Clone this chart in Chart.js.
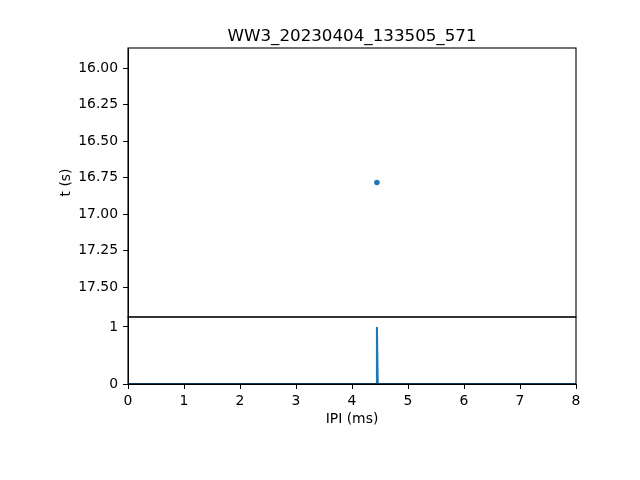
<!DOCTYPE html>
<html lang="en">
<head>
    <meta charset="UTF-8">
    <title>WW3_20230404_133505_571</title>
    <script src="https://cdn.jsdelivr.net/npm/chart.js"></script>
    <style>
        body { margin: 0; background: #fff; }
        #wrap { position: relative; width: 640px; height: 480px; }
        canvas { position: absolute; left: 0; top: 0; }
    </style>
</head>
<body>
    <div id="wrap">
        <canvas id="topChart" width="640" height="480"></canvas>
        <canvas id="bottomChart" width="640" height="480"></canvas>
    </div>
    <script>
        // data
        const titleText = 'WW3_20230404_133505_571';
        const scatterIPI = [4.445];      // ms
        const scatterT = [16.784];       // s
        const histX = [0, 4.43, 4.445, 4.46, 8];
        const histY = [0, 0, 1, 0, 0];
        const xTicks = [0, 1, 2, 3, 4, 5, 6, 7, 8];
        const tTicks = [16.00, 16.25, 16.50, 16.75, 17.00, 17.25, 17.50];
        const countTicks = [0, 1];

        const blue = '#1f77b4';
        const font = { family: 'DejaVu Sans', size: 13.9 };

        // draw a black frame round the plot area, like matplotlib spines
        const framePlugin = {
            id: 'frame',
            afterDraw(chart) {
                const a = chart.chartArea, ctx = chart.ctx;
                ctx.save();
                ctx.strokeStyle = '#000';
                ctx.lineWidth = 1.1;
                ctx.strokeRect(a.left, a.top, a.right - a.left, a.bottom - a.top);
                ctx.restore();
            }
        };

        // title centred over the plot area (matplotlib does it that way)
        const axTitlePlugin = {
            id: 'axTitle',
            afterDraw(chart) {
                const a = chart.chartArea, ctx = chart.ctx;
                ctx.save();
                ctx.fillStyle = '#000';
                ctx.font = '16.7px "DejaVu Sans"';
                ctx.textAlign = 'center';
                ctx.textBaseline = 'alphabetic';
                ctx.fillText(titleText, (a.left + a.right) / 2, a.top - 7);
                ctx.restore();
            }
        };

        function fixedTicks(values) {
            return scale => { scale.ticks = values.map(v => ({ value: v })); };
        }

        const axisStyle = {
            grid: { drawOnChartArea: false, tickLength: 5, tickColor: '#000', tickWidth: 1 },
            border: { color: '#000', width: 1 },
        };

        new Chart(document.getElementById('topChart'), {
            type: 'scatter',
            data: {
                datasets: [{
                    data: scatterIPI.map((x, i) => ({ x: x, y: scatterT[i] })),
                    backgroundColor: blue,
                    borderColor: blue,
                    pointRadius: 2.8,
                    borderWidth: 0,
                }]
            },
            options: {
                responsive: false,
                animation: false,
                layout: { padding: { left: 54, right: 64, top: 48, bottom: 163 } },
                plugins: {
                    legend: { display: false },
                    tooltip: { enabled: false },
                },
                scales: {
                    x: { type: 'linear', min: 0, max: 8, display: false },
                    y: {
                        type: 'linear',
                        reverse: true,
                        min: 15.863,
                        max: 17.705,
                        ...axisStyle,
                        afterBuildTicks: fixedTicks(tTicks),
                        afterFit: scale => { scale.width = 74; },
                        ticks: {
                            color: '#000', font: font, padding: 5,
                            callback: v => Number(v).toFixed(2),
                        },
                        title: { display: true, text: 't (s)', color: '#000', font: font },
                    }
                }
            },
            plugins: [framePlugin, axTitlePlugin]
        });

        new Chart(document.getElementById('bottomChart'), {
            type: 'line',
            data: {
                datasets: [{
                    data: histX.map((x, i) => ({ x: x, y: histY[i] })),
                    borderColor: blue,
                    borderWidth: 2,
                    pointRadius: 0,
                    fill: false,
                    tension: 0,
                }]
            },
            options: {
                responsive: false,
                animation: false,
                layout: { padding: { left: 54, right: 64, top: 317, bottom: 48 } },
                plugins: { legend: { display: false }, tooltip: { enabled: false } },
                scales: {
                    x: {
                        type: 'linear', min: 0, max: 8,
                        ...axisStyle,
                        afterBuildTicks: fixedTicks(xTicks),
                        afterFit: scale => { scale.height = 48; },
                        ticks: { color: '#000', font: font, padding: 4, maxRotation: 0 },
                        title: { display: true, text: 'IPI (ms)', color: '#000', font: font },
                    },
                    y: {
                        type: 'linear', min: 0, max: 1.175,
                        ...axisStyle,
                        afterBuildTicks: fixedTicks(countTicks),
                        afterFit: scale => { scale.width = 74; },
                        ticks: { color: '#000', font: font, padding: 5 },
                    }
                }
            },
            plugins: [framePlugin]
        });
    </script>
</body>
</html>
